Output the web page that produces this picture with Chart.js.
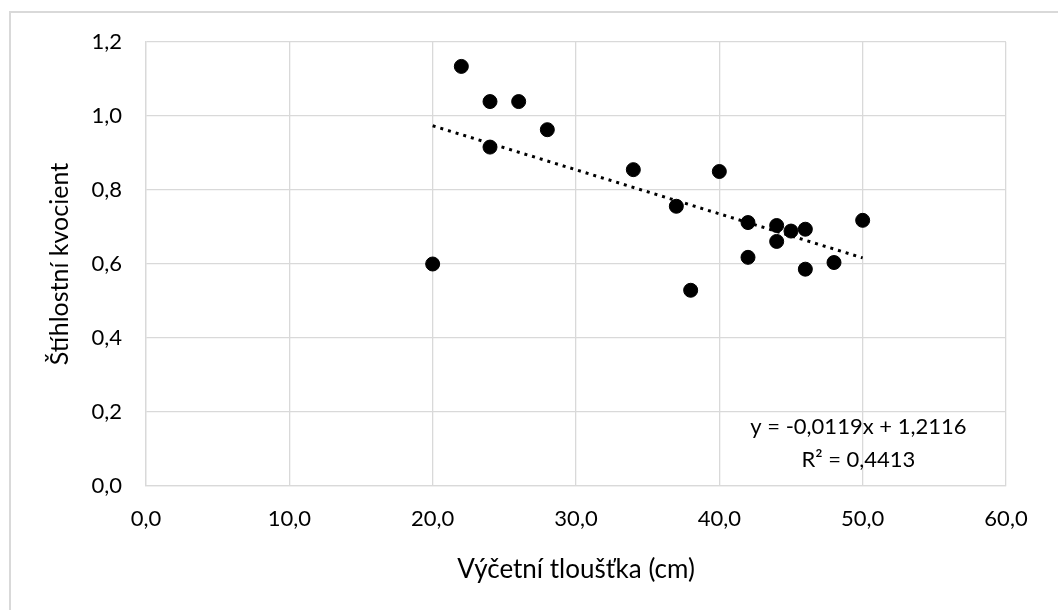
<!DOCTYPE html>
<html>
<head>
<meta charset="utf-8">
<script src="https://cdn.jsdelivr.net/npm/chart.js@4.4.1/dist/chart.umd.min.js"></script>
<style>
  html, body { margin: 0; padding: 0; background: #fff; }
  #wrap { position: relative; width: 1058px; height: 610px; }
  #frame { position: absolute; left: 9px; top: 11px; right: -10px; bottom: -10px;
           border-top: 2px solid #d9d9d9; border-left: 2px solid #d9d9d9; }
  canvas { position: absolute; left: 0; top: 0; }
</style>
</head>
<body>
<div id="wrap">
  <div id="frame"></div>
  <canvas id="graf" width="1058" height="610"></canvas>
</div>
<script>
// data
const tloustka = [20, 22, 24, 24, 26, 28, 34, 37, 38, 40, 42, 42, 44, 44, 45, 46, 46, 48, 50];
const kvocient = [0.600, 1.134, 1.039, 0.916, 1.039, 0.963, 0.855, 0.756, 0.529, 0.850, 0.712, 0.618, 0.704, 0.661, 0.689, 0.694, 0.586, 0.604, 0.718];

// lineární trend (z rovnice v grafu)
const sklon = -0.0119;
const posun = 1.2116;
const rovnice = ["y = -0,0119x + 1,2116", "R² = 0,4413"];

const body = tloustka.map((x, i) => ({ x: x, y: kvocient[i] }));
const xMin = Math.min(...tloustka), xMax = Math.max(...tloustka);
const trend = [xMin, xMax].map(x => ({ x: x, y: sklon * x + posun }));

const carka = v => v.toFixed(1).replace(".", ",");
const pismo = "Lato, 'Open Sans', sans-serif";

// popisek s rovnicí trendu
const rovnicePlugin = {
  id: "rovnice",
  afterDatasetsDraw(chart) {
    const { ctx, scales } = chart;
    const px = scales.x.getPixelForValue(49.7);
    const py = scales.y.getPixelForValue(0.16);
    ctx.save();
    ctx.font = "22px " + pismo;
    ctx.fillStyle = "#000";
    ctx.textAlign = "center";
    ctx.textBaseline = "middle";
    ctx.fillText(rovnice[0], px, py);
    ctx.fillText(rovnice[1], px, py + 33);
    ctx.restore();
  }
};

const config = {
  type: "scatter",
  data: {
    datasets: [
      {
        label: "Štíhlostní kvocient",
        data: body,
        backgroundColor: "#000",
        borderColor: "#000",
        pointRadius: 7,
        pointHoverRadius: 7
      },
      {
        label: "trend",
        data: trend,
        type: "line",
        showLine: true,
        borderColor: "#000",
        borderWidth: 3,
        borderDash: [3, 5],
        pointRadius: 0,
        fill: false
      }
    ]
  },
  options: {
    responsive: false,
    animation: false,
    layout: { padding: { top: 42, right: 52, left: 0, bottom: 0 } },
    plugins: { legend: { display: false }, tooltip: { enabled: false } },
    scales: {
      x: {
        type: "linear",
        min: 0, max: 60,
        ticks: { stepSize: 10, callback: carka, color: "#000", font: { family: pismo, size: 22 }, padding: 20 },
        grid: { color: "#d9d9d9", lineWidth: 1.3, drawTicks: false },
        border: { color: "#d9d9d9", width: 1.3 },
        title: { display: true, text: "Výčetní tloušťka (cm)", color: "#000", font: { family: pismo, size: 26 }, padding: { top: 0, bottom: 25 } },
        afterFit(axis) { axis.height = 124; }
      },
      y: {
        min: 0, max: 1.2,
        ticks: { stepSize: 0.2, callback: carka, color: "#000", font: { family: pismo, size: 22 }, padding: 24 },
        grid: { color: "#d9d9d9", lineWidth: 1.3, drawTicks: false },
        border: { color: "#d9d9d9", width: 1.3 },
        title: { display: true, text: "Štíhlostní kvocient", color: "#000", font: { family: pismo, size: 25 }, padding: { top: 45, bottom: 0 } },
        afterFit(axis) { axis.width = 146; }
      }
    }
  },
  plugins: [rovnicePlugin]
};

new Chart(document.getElementById("graf"), config);
</script>
</body>
</html>
